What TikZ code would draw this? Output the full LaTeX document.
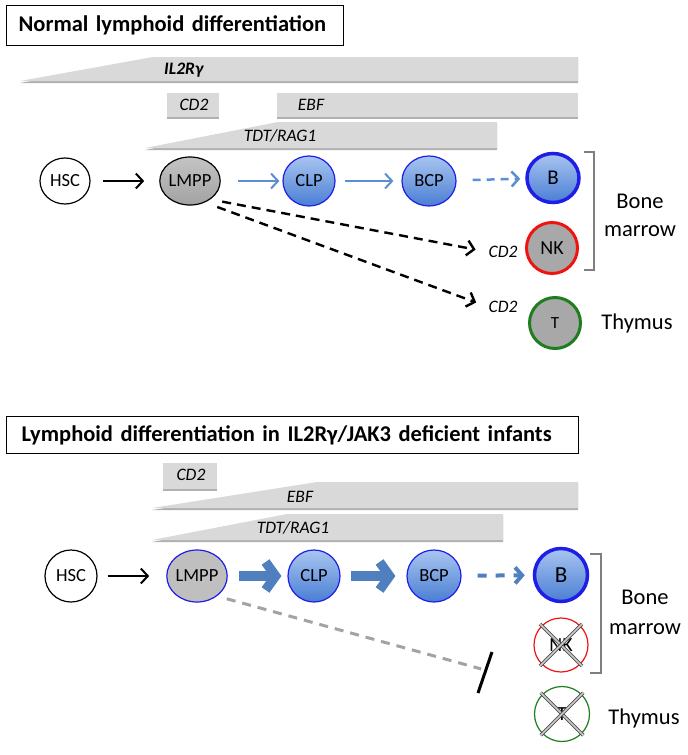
\documentclass[tikz,border=0pt]{standalone}
\usepackage{fontspec}
\setmainfont{Carlito}
\usetikzlibrary{arrows.meta,shapes.geometric}
\definecolor{barfill}{HTML}{D9D9D9}
\definecolor{barshadow}{HTML}{B0B0B0}
\definecolor{celltop}{HTML}{A8C5F0}
\definecolor{cellbot}{HTML}{4A7ED4}
\definecolor{cellblue}{HTML}{1E1EE6}
\definecolor{arrowblue}{HTML}{5B8FD3}
\definecolor{thickblue}{HTML}{4F7FBF}
\definecolor{cellgray}{HTML}{A8A8A8}
\definecolor{lmpptop}{HTML}{C4C4C4}
\definecolor{lmppbot}{HTML}{A2A2A2}
\definecolor{cellred}{HTML}{EE1414}
\definecolor{cellgreen}{HTML}{1E7D1E}
\definecolor{bracketgray}{HTML}{7F7F7F}
\definecolor{inhibgray}{HTML}{A3A3A3}
\tikzset{
  cell/.style={ellipse, inner sep=0pt, line width=1.2pt, minimum width=50pt, minimum height=48pt,
    font=\fontsize{18.5}{20}\selectfont},
  whitecell/.style={cell, draw=black, fill=white},
  graycell/.style={cell, draw=black, top color=lmpptop, bottom color=lmppbot},
  bluecell/.style={cell, draw=cellblue, top color=celltop, bottom color=cellbot},
  genelabel/.style={font=\itshape\fontsize{17.5}{20}\selectfont, inner sep=0pt},
  sidelabel/.style={font=\fontsize{22.5}{28}\selectfont, align=center, inner sep=0pt},
  titlebox/.style={draw=black, line width=1.2pt, align=left, inner ysep=0pt,
    font=\bfseries\fontsize{22.5}{26}\selectfont},
  barshape/.style={fill=barfill},
  barshade/.style={fill=barshadow},
  blackarrow/.style={line width=2pt, black, -{Straight Barb[length=7pt,width=15pt]}},
  bluearrow/.style={line width=2pt, arrowblue, -{Straight Barb[length=7pt,width=15pt]}},
  bluedash/.style={line width=2.5pt, arrowblue, dash pattern=on 8pt off 6pt, -{Straight Barb[length=7pt,width=15pt]}},
  blackdash/.style={line width=2.4pt, black, dash pattern=on 9pt off 6pt, -{Straight Barb[length=7pt,width=15pt]}},
  thickarrow/.style={line width=9.5pt, thickblue, -{Straight Barb[length=10pt,width=28pt]}},
  thickdash/.style={line width=4pt, thickblue, dash pattern=on 9pt off 9pt, -{Straight Barb[length=7pt,width=16pt]}},
  inhibdash/.style={line width=3pt, inhibgray, dash pattern=on 9pt off 7pt},
  bracket/.style={line width=2.5pt, bracketgray},
  xmark/.style={draw=black!70, line width=0.9pt, double=black!20, double distance=1.6pt,
    shorten <=-2pt, shorten >=-2pt}
}
\begin{document}
\begin{tikzpicture}[x=1pt,y=-1pt]
\useasboundingbox[fill=white] (0,0) rectangle (688,755);

% ===================== TOP PANEL =====================
\node[titlebox, anchor=north west, minimum height=40pt, inner xsep=12pt, text width=313pt] (title1) at (6,5)
  {Normal lymphoid differentiation};

% gene bars (shadow then bar)
\fill[barshade] (20,83) -- (153,59) -- (578,59) -- (578,83) -- cycle;
\fill[barshape] (20,81) -- (153,57) -- (578,57) -- (578,81) -- cycle;
\fill[barshade] (167,95) rectangle (219,119);
\fill[barshape] (167,93) rectangle (219,117);
\fill[barshade] (277,95) rectangle (578,119);
\fill[barshape] (277,93) rectangle (578,117);
\fill[barshade] (145,150) -- (278,124) -- (497,124) -- (497,150) -- cycle;
\fill[barshape] (145,148) -- (278,122) -- (497,122) -- (497,148) -- cycle;
\node[genelabel, font=\bfseries\itshape\fontsize{17.5}{20}\selectfont, anchor=west] (il2a) at (164,70) {IL2Rγ};
\node[genelabel] (cd2a) at (194,105) {CD2};
\node[genelabel] (ebfa) at (311,105) {EBF};
\node[genelabel] (tdta) at (280,136) {TDT/RAG1};

% cells
\node[whitecell, minimum width=50pt, minimum height=46pt] (hsc) at (65,181) {HSC};
\node[graycell, minimum width=46pt, minimum height=48pt] (lmpp) at (190,181) {LMPP};
\node[bluecell, minimum width=52pt, minimum height=50pt] (clp) at (309,181) {CLP};
\node[bluecell, minimum width=54pt, minimum height=50pt] (bcp) at (429,181) {BCP};
\node[bluecell, line width=3.5pt, minimum width=52pt, minimum height=49pt, font=\fontsize{21}{22}\selectfont] (bcell) at (553,178) {B};
\node[cell, draw=cellred, fill=cellgray, line width=3pt, minimum width=51pt, minimum height=51pt, font=\fontsize{20}{22}\selectfont] (nk) at (552,248) {NK};
\node[cell, draw=cellgreen, fill=cellgray, line width=3pt, minimum width=51pt, minimum height=51pt, font=\fontsize{17}{20}\selectfont] (tcell) at (555,323) {\raisebox{-5pt}{T}};

\node[genelabel] (cd2nk) at (503,252) {CD2};
\node[genelabel] (cd2t) at (503,307) {CD2};

% connectors
\draw[blackarrow, shorten <=12pt, shorten >=15pt] (hsc) -- (lmpp);
\draw[bluearrow, shorten <=17pt, shorten >=3pt] (lmpp) -- (clp);
\draw[bluearrow, shorten <=9pt, shorten >=8pt] (clp) -- (bcp);
\draw[bluedash, shorten <=16pt, shorten >=5pt] (bcp) -- (bcell);
\draw[blackdash, shorten <=12pt, shorten >=13pt] (lmpp.-42) -- (cd2nk.west);
\draw[blackdash, shorten <=13pt, shorten >=13pt] (lmpp.-55) -- (cd2t.west);

% bracket and side labels
\coordinate (bra1) at (584,152);
\coordinate (bra2) at (594,152);
\coordinate (bra3) at (594,270);
\coordinate (bra4) at (584,270);
\draw[bracket] (bra1) -- (bra2) -- (bra3) -- (bra4);
\node[sidelabel] (bm1) at (640,215) {Bone\\marrow};
\node[sidelabel] (thy1) at (637,323) {Thymus};

% ===================== BOTTOM PANEL =====================
\node[titlebox, anchor=north west, minimum height=37pt, inner xsep=15pt, text width=542pt] (title2) at (6,416)
  {Lymphoid differentiation in IL2Rγ/JAK3 deficient infants};

\fill[barshade] (163,465) rectangle (217,491);
\fill[barshape] (163,463) rectangle (217,489);
\fill[barshade] (152,510) -- (317,484) -- (578,484) -- (578,510) -- cycle;
\fill[barshape] (152,508) -- (317,482) -- (578,482) -- (578,508) -- cycle;
\fill[barshade] (152,542) -- (287,516) -- (503,516) -- (503,542) -- cycle;
\fill[barshape] (152,540) -- (287,514) -- (503,514) -- (503,540) -- cycle;
\node[genelabel] (cd2b) at (191,475) {CD2};
\node[genelabel] (ebfb) at (300,497) {EBF};
\node[genelabel] (tdtb) at (293,528) {TDT/RAG1};

\node[whitecell, minimum width=52pt, minimum height=52pt] (hsc2) at (71,576) {HSC};
\node[cell, draw=cellblue, fill=black!25, minimum width=50pt, minimum height=52pt] (lmpp2) at (197,576) {LMPP};
\node[bluecell, minimum width=52pt, minimum height=52pt] (clp2) at (314,576) {CLP};
\node[bluecell, minimum width=54pt, minimum height=52pt] (bcp2) at (434,576) {BCP};
\node[bluecell, line width=3.5pt, minimum width=53pt, minimum height=53pt, font=\fontsize{23}{24}\selectfont] (bcell2) at (561,575) {B};
\node[cell, draw=cellred, fill=white, line width=1.2pt, minimum width=54pt, minimum height=54pt, font=\fontsize{20}{22}\selectfont] (nk2) at (561,645) {NK};
\node[cell, draw=cellgreen, fill=white, line width=1.2pt, minimum width=55pt, minimum height=55pt, font=\fontsize{20}{22}\selectfont] (tcell2) at (562,714) {\raisebox{-3pt}{T}};
\draw[xmark] (nk2.north west) -- (nk2.south east);
\draw[xmark] (nk2.north east) -- (nk2.south west);
\draw[xmark] (tcell2.north west) -- (tcell2.south east);
\draw[xmark] (tcell2.north east) -- (tcell2.south west);

\draw[blackarrow, shorten <=10pt, shorten >=17pt] (hsc2) -- (lmpp2);
\draw[thickarrow, shorten <=11pt, shorten >=6pt] (lmpp2) -- (clp2);
\draw[thickarrow, shorten <=10pt, shorten >=11pt] (clp2) -- (bcp2);
\draw[thickdash, shorten <=16pt, shorten >=8pt] (bcp2) -- (bcell2);

\coordinate (block) at (485,670);
\coordinate (blocktop) at (492,652);
\coordinate (blockbot) at (478,693);
\draw[inhibdash, shorten <=10pt, shorten >=4pt] (lmpp2.-45) -- (block);
\draw[line width=3pt, black] (blocktop) -- (blockbot);

\coordinate (brb1) at (590,554);
\coordinate (brb2) at (601,554);
\coordinate (brb3) at (601,673);
\coordinate (brb4) at (590,673);
\draw[bracket] (brb1) -- (brb2) -- (brb3) -- (brb4);
\node[sidelabel, font=\fontsize{22.5}{30}\selectfont] (bm2) at (645,612) {Bone\\marrow};
\node[sidelabel] (thy2) at (644,718) {Thymus};
\end{tikzpicture}
\end{document}
